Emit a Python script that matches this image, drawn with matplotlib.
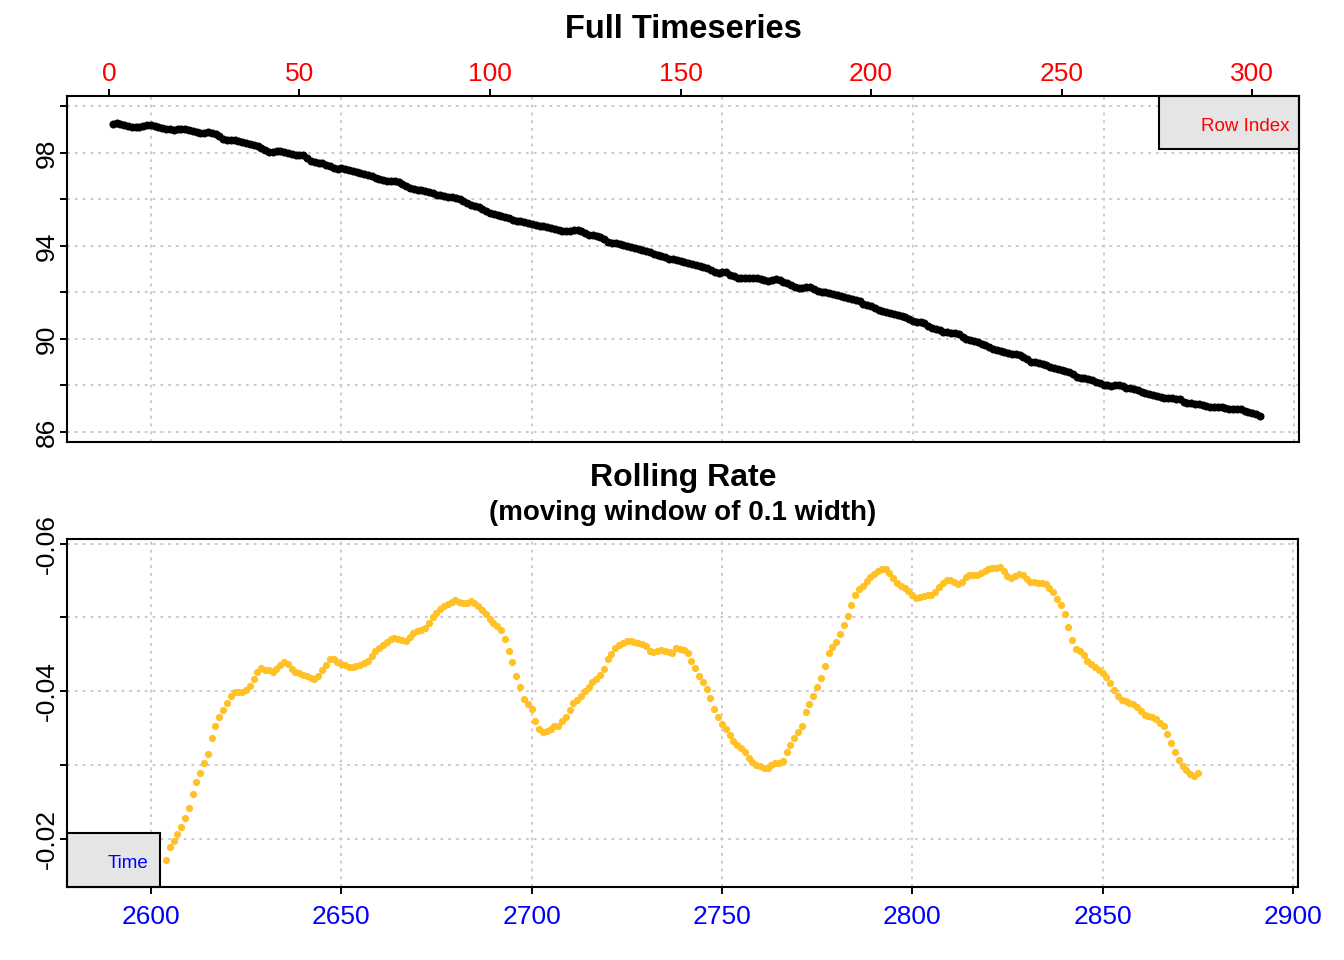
import numpy as np
import matplotlib
matplotlib.use("Agg")
import matplotlib.pyplot as plt
from matplotlib.patches import Rectangle

plt.rcParams['font.family'] = ['Liberation Sans', 'DejaVu Sans']

# 1. data: full timeseries (one value per row)
row_index = list(range(1, 303))
time_offset = 2589  # time = row index + offset
level = [
    99.23, 99.27, 99.23, 99.19, 99.15, 99.13, 99.10, 99.13, 99.17, 99.19,
    99.22, 99.14, 99.11, 99.08, 99.05, 99.02, 98.97, 99.01, 99.05, 99.04,
    98.98, 98.93, 98.88, 98.85, 98.86, 98.89, 98.86, 98.80, 98.71, 98.61,
    98.56, 98.56, 98.55, 98.52, 98.49, 98.44, 98.39, 98.35, 98.29, 98.21,
    98.11, 98.06, 98.06, 98.09, 98.07, 98.04, 98.00, 97.96, 97.92, 97.91,
    97.89, 97.78, 97.67, 97.59, 97.56, 97.56, 97.50, 97.43, 97.36, 97.32,
    97.34, 97.32, 97.28, 97.23, 97.17, 97.14, 97.11, 97.05, 96.99, 96.93,
    96.87, 96.84, 96.81, 96.81, 96.79, 96.74, 96.68, 96.59, 96.51, 96.44,
    96.41, 96.39, 96.36, 96.32, 96.27, 96.21, 96.17, 96.14, 96.12, 96.10,
    96.05, 96.00, 95.94, 95.86, 95.78, 95.70, 95.66, 95.60, 95.50, 95.41,
    95.38, 95.34, 95.30, 95.24, 95.19, 95.12, 95.08, 95.08, 95.04, 94.98,
    94.94, 94.90, 94.87, 94.84, 94.80, 94.77, 94.73, 94.69, 94.66, 94.66,
    94.66, 94.68, 94.67, 94.63, 94.54, 94.48, 94.45, 94.42, 94.40, 94.29,
    94.15, 94.12, 94.14, 94.10, 94.06, 94.00, 93.95, 93.91, 93.87, 93.83,
    93.79, 93.74, 93.67, 93.62, 93.57, 93.51, 93.46, 93.44, 93.41, 93.37,
    93.31, 93.26, 93.21, 93.17, 93.13, 93.09, 93.05, 92.97, 92.89, 92.84,
    92.86, 92.89, 92.75, 92.69, 92.64, 92.64, 92.64, 92.64, 92.64, 92.62,
    92.58, 92.53, 92.49, 92.54, 92.57, 92.55, 92.47, 92.39, 92.30, 92.24,
    92.20, 92.18, 92.23, 92.22, 92.13, 92.08, 92.03, 92.01, 91.98, 91.94,
    91.91, 91.86, 91.80, 91.76, 91.71, 91.68, 91.64, 91.52, 91.44, 91.40,
    91.33, 91.25, 91.19, 91.14, 91.10, 91.07, 91.03, 90.98, 90.93, 90.85,
    90.78, 90.74, 90.71, 90.67, 90.56, 90.48, 90.44, 90.38, 90.32, 90.29,
    90.27, 90.25, 90.21, 90.08, 90.01, 89.97, 89.92, 89.88, 89.80, 89.72,
    89.64, 89.57, 89.53, 89.49, 89.45, 89.41, 89.37, 89.36, 89.30, 89.22,
    89.12, 89.03, 89.00, 88.97, 88.91, 88.86, 88.80, 88.75, 88.70, 88.67,
    88.63, 88.56, 88.48, 88.38, 88.33, 88.31, 88.28, 88.23, 88.16, 88.10,
    88.04, 88.00, 87.98, 88.00, 88.02, 87.96, 87.91, 87.89, 87.85, 87.81,
    87.74, 87.66, 87.62, 87.58, 87.54, 87.50, 87.46, 87.45, 87.45, 87.43,
    87.40, 87.30, 87.25, 87.23, 87.22, 87.20, 87.15, 87.11, 87.09, 87.09,
    87.09, 87.06, 87.02, 86.99, 86.97, 87.00, 87.01, 86.90, 86.84, 86.80,
    86.76, 86.70,
]

# 2. data: rolling rate (one value per time step)
rate_time = list(range(2604, 2876))
rate = [
    -0.0171, -0.0189, -0.0197, -0.0206, -0.0215, -0.0228, -0.0242, -0.0261, -0.0276, -0.0289,
    -0.0302, -0.0314, -0.0337, -0.0352, -0.0365, -0.0374, -0.0384, -0.0394, -0.0399, -0.0399,
    -0.0399, -0.0401, -0.0407, -0.0416, -0.0426, -0.0431, -0.0429, -0.0428, -0.0426, -0.0430,
    -0.0436, -0.0440, -0.0437, -0.0430, -0.0426, -0.0424, -0.0422, -0.0420, -0.0418, -0.0417,
    -0.0421, -0.0428, -0.0436, -0.0443, -0.0443, -0.0440, -0.0437, -0.0435, -0.0433, -0.0433,
    -0.0434, -0.0435, -0.0438, -0.0441, -0.0448, -0.0454, -0.0458, -0.0462, -0.0466, -0.0470,
    -0.0472, -0.0471, -0.0469, -0.0468, -0.0473, -0.0479, -0.0482, -0.0483, -0.0486, -0.0492,
    -0.0500, -0.0506, -0.0511, -0.0515, -0.0518, -0.0521, -0.0523, -0.0521, -0.0519, -0.0520,
    -0.0522, -0.0520, -0.0515, -0.0510, -0.0504, -0.0498, -0.0493, -0.0488, -0.0483, -0.0470,
    -0.0455, -0.0439, -0.0421, -0.0405, -0.0389, -0.0382, -0.0376, -0.0360, -0.0348, -0.0344,
    -0.0346, -0.0348, -0.0353, -0.0353, -0.0359, -0.0365, -0.0374, -0.0384, -0.0388, -0.0394,
    -0.0400, -0.0405, -0.0412, -0.0417, -0.0422, -0.0430, -0.0443, -0.0450, -0.0459, -0.0462,
    -0.0465, -0.0468, -0.0468, -0.0466, -0.0465, -0.0464, -0.0461, -0.0454, -0.0453, -0.0455,
    -0.0456, -0.0454, -0.0453, -0.0452, -0.0458, -0.0457, -0.0456, -0.0451, -0.0441, -0.0431,
    -0.0421, -0.0413, -0.0403, -0.0391, -0.0376, -0.0365, -0.0356, -0.0349, -0.0340, -0.0332,
    -0.0327, -0.0323, -0.0318, -0.0309, -0.0304, -0.0300, -0.0298, -0.0296, -0.0295, -0.0300,
    -0.0303, -0.0303, -0.0305, -0.0317, -0.0327, -0.0336, -0.0344, -0.0353, -0.0372, -0.0383,
    -0.0394, -0.0405, -0.0418, -0.0434, -0.0451, -0.0460, -0.0466, -0.0478, -0.0490, -0.0502,
    -0.0517, -0.0531, -0.0538, -0.0543, -0.0549, -0.0555, -0.0559, -0.0563, -0.0565, -0.0565,
    -0.0560, -0.0553, -0.0546, -0.0542, -0.0540, -0.0536, -0.0531, -0.0526, -0.0527, -0.0529,
    -0.0530, -0.0530, -0.0534, -0.0541, -0.0547, -0.0551, -0.0551, -0.0548, -0.0545, -0.0548,
    -0.0555, -0.0557, -0.0557, -0.0557, -0.0560, -0.0563, -0.0565, -0.0567, -0.0567, -0.0568,
    -0.0563, -0.0556, -0.0554, -0.0556, -0.0559, -0.0557, -0.0552, -0.0548, -0.0548, -0.0547,
    -0.0546, -0.0545, -0.0540, -0.0534, -0.0525, -0.0517, -0.0504, -0.0487, -0.0469, -0.0457,
    -0.0454, -0.0449, -0.0441, -0.0437, -0.0432, -0.0428, -0.0424, -0.0419, -0.0411, -0.0401,
    -0.0394, -0.0388, -0.0386, -0.0384, -0.0382, -0.0378, -0.0373, -0.0368, -0.0366, -0.0365,
    -0.0362, -0.0357, -0.0352, -0.0342, -0.0330, -0.0318, -0.0307, -0.0299, -0.0293, -0.0288,
    -0.0285, -0.0289,
]

# 3. ticks and labels
time_ticks = [2600, 2650, 2700, 2750, 2800, 2850, 2900]
row_ticks = [0, 50, 100, 150, 200, 250, 300]
level_ticks = [86, 88, 90, 92, 94, 96, 98, 100]
level_labels = ['86', '', '90', '', '94', '', '98', '']
rate_ticks = [-0.06, -0.05, -0.04, -0.03, -0.02]
rate_labels = ['-0.06', '', '-0.04', '', '-0.02']

grid_col = '#CCCCCC'
tick_fs = 19
W, H = 1344, 960

fig = plt.figure(figsize=(W / 100, H / 100), dpi=100)
ax1 = fig.add_axes([67 / W, 1 - 442 / H, 1232 / W, 346.5 / H])
ax2 = fig.add_axes([67 / W, 1 - 886.5 / H, 1231 / W, 348 / H])


def draw_grid(ax, yticks):
    for t in time_ticks:
        ax.axvline(t, color=grid_col, lw=1.4, ls=(0, (1.5, 2.5)), zorder=1)
    for y in yticks:
        ax.axhline(y, color=grid_col, lw=1.4, ls=(0, (1.5, 2.5)), zorder=1)


# 4. top panel
time_full = [r + time_offset for r in row_index]
draw_grid(ax1, level_ticks)
ax1.plot(time_full, level, ls='none', marker='o', ms=5.8, mew=0, color='black', zorder=3)
ax1.set_xlim(2578, 2901.3)
ax1.set_ylim(85.57, 100.47)
ax1.xaxis.tick_top()
ax1.set_xticks([r + time_offset for r in row_ticks])
ax1.set_xticklabels([str(r) for r in row_ticks])
ax1.tick_params(axis='x', direction='out', length=5, width=1.4, pad=2,
                labelsize=tick_fs, labelcolor='#FF0000')
ax1.set_yticks(level_ticks)
ax1.set_yticklabels(level_labels, rotation=90, va='center')
ax1.tick_params(axis='y', direction='out', length=5, width=1.4, pad=1, labelsize=tick_fs)
ax1.add_patch(Rectangle((0.8864, 0.8468), 0.1136, 0.1532, transform=ax1.transAxes,
                        facecolor='#E5E5E5', edgecolor='black', lw=1.5, zorder=5, clip_on=False))
ax1.text(0.9919, 0.910, 'Row Index', transform=ax1.transAxes, ha='right', va='center',
         color='#FF0000', fontsize=13.5, zorder=6)

# 5. bottom panel
draw_grid(ax2, rate_ticks)
ax2.plot(rate_time, rate, ls='none', marker='o', ms=5.2, mew=0, color='#FFC125', zorder=3)
ax2.set_xlim(2578, 2901.3)
ax2.set_ylim(-0.01349, -0.0607)
ax2.set_xticks(time_ticks)
ax2.set_xticklabels([str(t) for t in time_ticks])
ax2.tick_params(axis='x', direction='out', length=5, width=1.4, pad=8.5,
                labelsize=tick_fs, labelcolor='#0000FF')
ax2.set_yticks(rate_ticks)
ax2.set_yticklabels(rate_labels, rotation=90, va='center')
ax2.tick_params(axis='y', direction='out', length=5, width=1.4, pad=1, labelsize=tick_fs)
ax2.add_patch(Rectangle((0, 0), 0.0755, 0.153, transform=ax2.transAxes,
                        facecolor='#E5E5E5', edgecolor='black', lw=1.5, zorder=5, clip_on=False))
ax2.text(0.066, 0.066, 'Time', transform=ax2.transAxes, ha='right', va='center',
         color='#0000FF', fontsize=13.5, zorder=6)

for ax in (ax1, ax2):
    for s in ax.spines.values():
        s.set_linewidth(1.5)
        s.set_zorder(7)

# 6. titles
fig.text(683 / W, 1 - 38.3 / H, 'Full Timeseries', ha='center', va='baseline',
         fontsize=23.5, fontweight='bold')
fig.text(683 / W, 1 - 486 / H, 'Rolling Rate', ha='center', va='baseline',
         fontsize=23, fontweight='bold')
fig.text(683 / W, 1 - 520 / H, '(moving window of 0.1 width)', ha='center', va='baseline',
         fontsize=20, fontweight='bold')

plt.savefig('out.png', dpi=100)
plt.close()
